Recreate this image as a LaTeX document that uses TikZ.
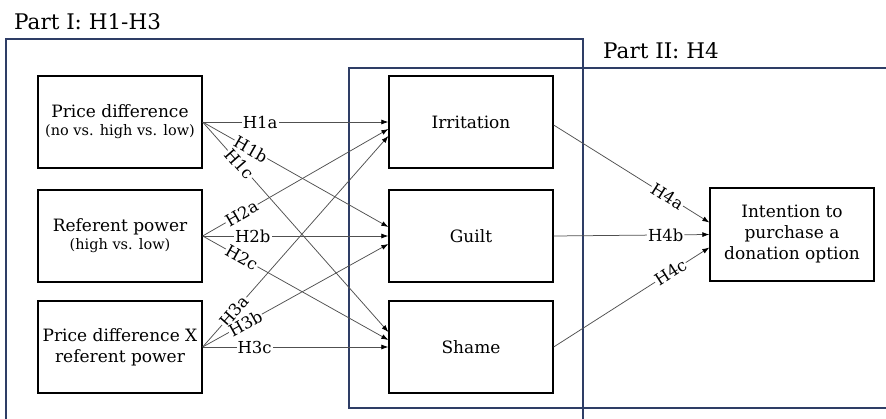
\documentclass[tikz,border=0pt]{standalone}
\usepackage{fontspec}
\setmainfont{DejaVu Serif}
\usetikzlibrary{arrows.meta,calc}
\definecolor{navy}{HTML}{2E3D66}
\definecolor{linegray}{HTML}{505050}
\begin{document}
\begin{tikzpicture}[x=1pt,y=-1pt,
  box/.style={draw=black,line width=1.3pt,minimum width=164pt,minimum height=92pt,inner sep=0pt,align=center,font=\fontsize{17}{21}\selectfont},
  part/.style={draw=navy,line width=1.1pt},
  arr/.style={draw=linegray,line width=0.75pt,-{Latex[length=7pt,width=5pt,color=black]}},
  lab/.style={fill=white,inner sep=1pt,sloped,font=\fontsize{16.5}{18}\selectfont},
  ttl/.style={anchor=base west,inner sep=0pt,font=\fontsize{21.5}{24}\selectfont}
]
\useasboundingbox (0,0) rectangle (886,418);
\clip (0,0) rectangle (886,418);
\fill[white] (0,0) rectangle (886,418);
% parts
\draw[part] (6,39) rectangle (583,440);
\draw[part] (349,68) rectangle (900,408);
\node[ttl] (t1) at (14,29) {Part I: H1-H3};
\node[ttl] (t2) at (603,58) {Part II: H4};
% nodes
\node[box] (pd) at (120,122) {Price difference\\[-3pt]{\fontsize{14.5}{16}\selectfont (no vs. high vs. low)}};
\node[box] (rp) at (120,236) {Referent power\\[-3pt]{\fontsize{14.5}{16}\selectfont (high vs. low)}};
\node[box] (pdx) at (120,347) {Price difference X\\referent power};
\node[box] (irr) at (471,122) {Irritation};
\node[box] (gui) at (471,236) {Guilt};
\node[box] (sha) at (471,347) {Shame};
\node[box,minimum height=93pt] (int) at (792,234.5) {Intention to\\purchase a\\donation option};
% arrows
\draw[arr] (pd.east) -- node[lab,pos=0.31]{H1a} (irr.west);
\draw[arr] (pd.east) -- node[lab,pos=0.26]{H1b} ([yshift=9pt]gui.west);
\draw[arr] (pd.east) -- node[lab,pos=0.2]{H1c} ([yshift=15pt]sha.west);
\draw[arr] (rp.east) -- node[lab,pos=0.21]{H2a} ([yshift=-7pt]irr.west);
\draw[arr] (rp.east) -- node[lab,pos=0.27]{H2b} (gui.west);
\draw[arr] (rp.east) -- node[lab,pos=0.21]{H2c} ([yshift=7pt]sha.west);
\draw[arr] (pdx.east) -- node[lab,pos=0.17]{H3a} ([yshift=-14pt]irr.west);
\draw[arr] (pdx.east) -- node[lab,pos=0.23]{H3b} ([yshift=-8pt]gui.west);
\draw[arr] (pdx.east) -- node[lab,pos=0.28]{H3c} (sha.west);
\draw[arr] ([yshift=-3pt]irr.east) -- node[lab,pos=0.73]{H4a} ([yshift=12pt]int.west);
\draw[arr] (gui.east) -- node[lab,pos=0.72]{H4b} (int.west);
\draw[arr] (sha.east) -- node[lab,pos=0.75]{H4c} ([yshift=-13pt]int.west);
\end{tikzpicture}
\end{document}
